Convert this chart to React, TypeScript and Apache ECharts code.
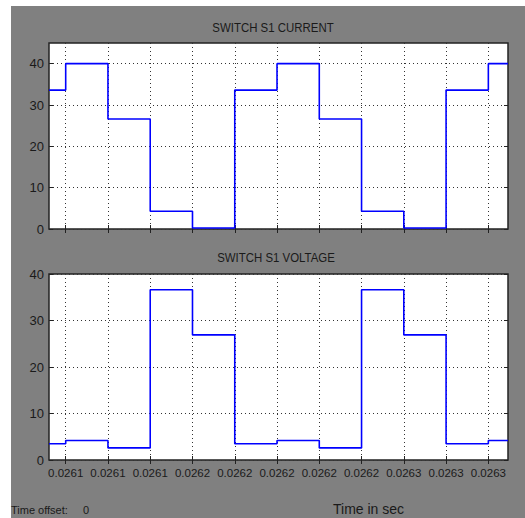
import React, { useEffect, useRef } from 'react';
import * as echarts from 'echarts';

// Sample times (s): left bound, tick instants, right bound
const times = [0.0260921, 0.0261, 0.02612, 0.02614, 0.02616, 0.02618, 0.0262, 0.02622, 0.02624, 0.02626, 0.02628, 0.0263, 0.0263093];
// Switch S1 current (held from each time to the next)
const currentValues = [33.6, 40, 26.6, 4.3, 0.25, 33.6, 40, 26.6, 4.3, 0.25, 33.6, 40, 40];
// Switch S1 voltage (held from each time to the next)
const voltageValues = [3.5, 4.2, 2.6, 36.6, 26.9, 3.5, 4.2, 2.6, 36.6, 26.9, 3.5, 4.2, 4.2];

const xTicks = [0.0261, 0.02612, 0.02614, 0.02616, 0.02618, 0.0262, 0.02622, 0.02624, 0.02626, 0.02628, 0.0263];
const xTickLabels = ['0.0261', '0.0261', '0.0261', '0.0262', '0.0262', '0.0262', '0.0262', '0.0262', '0.0263', '0.0263', '0.0263'];
const yTicks = [0, 10, 20, 30, 40];
const yTickLabels = ['0', '10', '20', '30', '40'];
const panelTitles = ['SWITCH S1 CURRENT', 'SWITCH S1 VOLTAGE'];
const yMaxes = [45, 40];

const FONT = '"Liberation Sans", Arial, sans-serif';
const INK = '#1a1a1a';

function xLabel(v: number) {
  const i = xTicks.findIndex((t) => Math.abs(t - v) < 1e-9);
  return i >= 0 ? xTickLabels[i] : '';
}
function yLabel(v: number) {
  const i = yTicks.findIndex((t) => Math.abs(t - v) < 1e-9);
  return i >= 0 ? yTickLabels[i] : '';
}

export default function App() {
  const ref = useRef<HTMLDivElement>(null);
  useEffect(() => {
    if (!ref.current) return;
    const chart = echarts.init(ref.current, undefined, { renderer: 'svg' });
    const xMin = times[0];
    const xMax = times[times.length - 1];
    const gridTops = [43, 274];
    const grids = gridTops.map((top) => ({
      left: 49,
      top,
      width: 459,
      height: 186,
      show: true,
      backgroundColor: '#ffffff',
      borderColor: '#222222',
      borderWidth: 1.5,
    }));
    const tickStyle = { show: true, inside: true, length: 4, lineStyle: { color: '#222', width: 1 } };
    const dotted = { show: true, lineStyle: { color: '#333', type: [1, 3] as any, width: 1 } };
    const xAxes: any[] = [];
    const yAxes: any[] = [];
    [0, 1].forEach((g) => {
      xAxes.push({
        type: 'value', gridIndex: g, position: 'bottom', min: xMin, max: xMax,
        axisLine: { show: false },
        axisTick: { ...tickStyle, customValues: xTicks },
        axisLabel: {
          show: g === 1, customValues: xTicks, formatter: xLabel, margin: 7,
          fontFamily: FONT, fontSize: 11.5, color: INK,
        },
        splitLine: dotted,
      });
      xAxes.push({
        type: 'value', gridIndex: g, position: 'top', min: xMin, max: xMax,
        axisLine: { show: false },
        axisTick: { ...tickStyle, customValues: xTicks },
        axisLabel: { show: false, customValues: xTicks },
        splitLine: { show: false },
      });
      yAxes.push({
        type: 'value', gridIndex: g, position: 'left', min: 0, max: yMaxes[g],
        axisLine: { show: false },
        axisTick: { ...tickStyle, customValues: yTicks },
        axisLabel: {
          show: true, customValues: yTicks, formatter: yLabel, margin: 5,
          fontFamily: FONT, fontSize: 13, color: INK,
        },
        splitLine: dotted,
      });
      yAxes.push({
        type: 'value', gridIndex: g, position: 'right', min: 0, max: yMaxes[g],
        axisLine: { show: false },
        axisTick: { ...tickStyle, customValues: yTicks },
        axisLabel: { show: false, customValues: yTicks },
        splitLine: { show: false },
      });
    });
    const option: any = {
      animation: false,
      backgroundColor: '#808080',
      grid: grids,
      xAxis: xAxes,
      yAxis: yAxes,
      series: [
        {
          type: 'line', xAxisIndex: 0, yAxisIndex: 0, step: 'end', symbol: 'none',
          lineStyle: { color: '#0000ff', width: 1.6 },
          data: times.map((t, i) => [t, currentValues[i]]),
        },
        {
          type: 'line', xAxisIndex: 2, yAxisIndex: 2, step: 'end', symbol: 'none',
          lineStyle: { color: '#0000ff', width: 1.6 },
          data: times.map((t, i) => [t, voltageValues[i]]),
        },
      ],
      graphic: [
        { type: 'rect', shape: { x: 0, y: 0, width: 525, height: 6 }, style: { fill: '#ffffff' }, silent: true },
        { type: 'rect', shape: { x: 0, y: 0, width: 11, height: 518 }, style: { fill: '#ffffff' }, silent: true },
        {
          type: 'text', x: 273, y: 28, scaleX: 0.88,
          style: { text: panelTitles[0], align: 'center', verticalAlign: 'middle', fontFamily: FONT, fontSize: 13, fill: INK },
        },
        {
          type: 'text', x: 276, y: 258, scaleX: 0.88,
          style: { text: panelTitles[1], align: 'center', verticalAlign: 'middle', fontFamily: FONT, fontSize: 13, fill: INK },
        },
        {
          type: 'text', x: 11, y: 510,
          style: { text: 'Time offset:', align: 'left', verticalAlign: 'middle', fontFamily: FONT, fontSize: 11, fill: INK },
        },
        {
          type: 'text', x: 83, y: 510,
          style: { text: '0', align: 'left', verticalAlign: 'middle', fontFamily: FONT, fontSize: 11, fill: INK },
        },
        {
          type: 'text', x: 333, y: 509,
          style: { text: 'Time in sec', align: 'left', verticalAlign: 'middle', fontFamily: FONT, fontSize: 14, fill: INK },
        },
      ],
    };
    chart.setOption(option);
    return () => chart.dispose();
  }, []);
  return <div ref={ref} style={{ position: 'fixed', left: 0, top: 0, width: 525, height: 518 }} />;
}
